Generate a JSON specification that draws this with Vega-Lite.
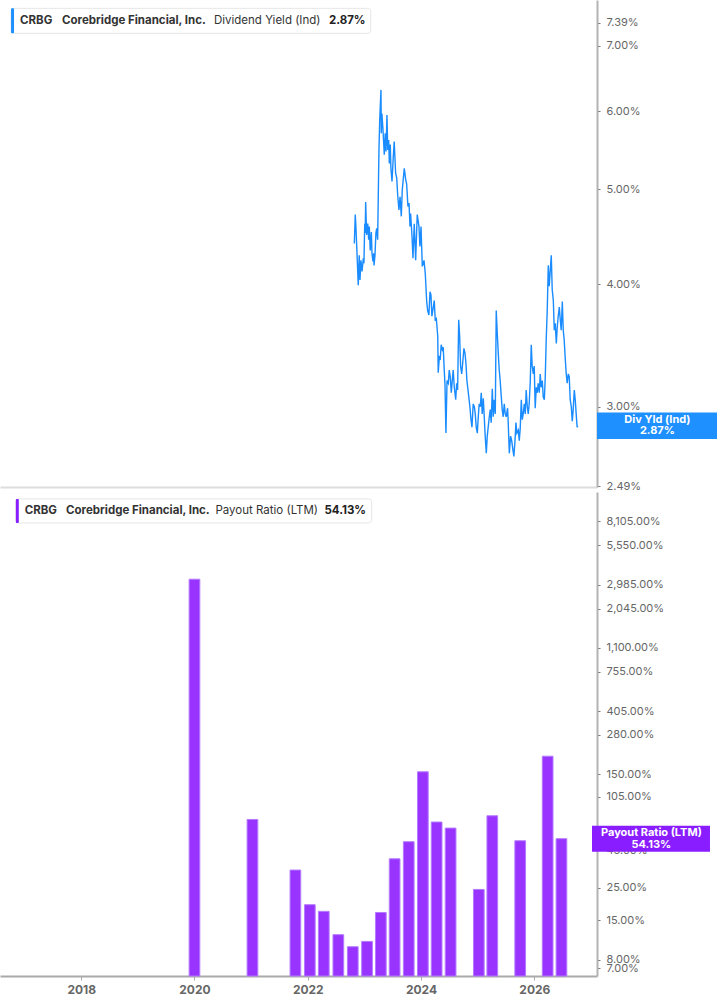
{
  "$schema": "https://vega.github.io/schema/vega-lite/v6.json",
  "padding": 0,
  "background": "white",
  "config": {
    "view": {"stroke": null},
    "font": "Inter",
    "axis": {"labelFont": "Inter", "titleFont": "Inter"}
  },
  "datasets": {
    "yield": [
      {"date": "2022-10-22", "value": 4.40}, {"date": "2022-10-28", "value": 4.71}, {"date": "2022-11-01", "value": 4.58},
      {"date": "2022-11-08", "value": 4.30}, {"date": "2022-11-16", "value": 3.99}, {"date": "2022-11-22", "value": 4.28},
      {"date": "2022-11-27", "value": 4.04}, {"date": "2022-12-03", "value": 4.23}, {"date": "2022-12-10", "value": 4.12},
      {"date": "2022-12-18", "value": 4.25}, {"date": "2022-12-22", "value": 4.20}, {"date": "2022-12-27", "value": 4.61},
      {"date": "2022-12-30", "value": 4.51}, {"date": "2023-01-02", "value": 4.85}, {"date": "2023-01-08", "value": 4.49},
      {"date": "2023-01-15", "value": 4.61}, {"date": "2023-01-21", "value": 4.44}, {"date": "2023-01-25", "value": 4.58},
      {"date": "2023-01-31", "value": 4.33}, {"date": "2023-02-07", "value": 4.52}, {"date": "2023-02-11", "value": 4.30},
      {"date": "2023-02-17", "value": 4.22}, {"date": "2023-02-22", "value": 4.30}, {"date": "2023-02-24", "value": 4.18},
      {"date": "2023-03-02", "value": 4.28}, {"date": "2023-03-08", "value": 4.51}, {"date": "2023-03-13", "value": 4.56},
      {"date": "2023-03-19", "value": 4.44}, {"date": "2023-03-27", "value": 5.46}, {"date": "2023-04-01", "value": 5.88},
      {"date": "2023-04-09", "value": 6.31}, {"date": "2023-04-11", "value": 5.70}, {"date": "2023-04-15", "value": 5.97},
      {"date": "2023-04-22", "value": 5.74}, {"date": "2023-04-30", "value": 5.42}, {"date": "2023-05-06", "value": 5.70},
      {"date": "2023-05-11", "value": 5.46}, {"date": "2023-05-17", "value": 5.95}, {"date": "2023-05-22", "value": 5.48},
      {"date": "2023-05-28", "value": 5.61}, {"date": "2023-06-01", "value": 5.31}, {"date": "2023-06-07", "value": 5.55},
      {"date": "2023-06-11", "value": 5.25}, {"date": "2023-06-18", "value": 5.09}, {"date": "2023-06-26", "value": 5.39},
      {"date": "2023-07-02", "value": 5.59}, {"date": "2023-07-11", "value": 5.19}, {"date": "2023-07-18", "value": 5.13},
      {"date": "2023-07-24", "value": 4.93}, {"date": "2023-08-01", "value": 4.76}, {"date": "2023-08-08", "value": 4.91},
      {"date": "2023-08-16", "value": 4.69}, {"date": "2023-08-22", "value": 4.99}, {"date": "2023-08-31", "value": 5.17},
      {"date": "2023-09-04", "value": 5.25}, {"date": "2023-09-13", "value": 5.11}, {"date": "2023-09-19", "value": 5.06},
      {"date": "2023-09-27", "value": 4.80}, {"date": "2023-10-04", "value": 4.84}, {"date": "2023-10-10", "value": 4.58},
      {"date": "2023-10-14", "value": 4.72}, {"date": "2023-10-23", "value": 4.47}, {"date": "2023-10-29", "value": 4.25},
      {"date": "2023-11-06", "value": 4.61}, {"date": "2023-11-15", "value": 4.23}, {"date": "2023-11-25", "value": 4.71},
      {"date": "2023-12-06", "value": 4.58}, {"date": "2023-12-12", "value": 4.37}, {"date": "2023-12-19", "value": 4.58},
      {"date": "2023-12-27", "value": 4.17}, {"date": "2024-01-07", "value": 4.23}, {"date": "2024-01-15", "value": 4.10},
      {"date": "2024-01-24", "value": 3.84}, {"date": "2024-01-30", "value": 3.76}, {"date": "2024-02-07", "value": 3.72},
      {"date": "2024-02-14", "value": 3.93}, {"date": "2024-02-20", "value": 3.90}, {"date": "2024-02-26", "value": 3.71},
      {"date": "2024-03-06", "value": 3.79}, {"date": "2024-03-12", "value": 3.85}, {"date": "2024-03-18", "value": 3.68},
      {"date": "2024-03-25", "value": 3.69}, {"date": "2024-04-03", "value": 3.54}, {"date": "2024-04-06", "value": 3.25},
      {"date": "2024-04-13", "value": 3.37}, {"date": "2024-04-19", "value": 3.36}, {"date": "2024-04-25", "value": 3.47},
      {"date": "2024-05-02", "value": 3.43}, {"date": "2024-05-08", "value": 3.45}, {"date": "2024-05-13", "value": 3.30},
      {"date": "2024-05-19", "value": 3.16}, {"date": "2024-05-25", "value": 2.82}, {"date": "2024-06-01", "value": 3.19},
      {"date": "2024-06-09", "value": 3.17}, {"date": "2024-06-15", "value": 3.27}, {"date": "2024-06-21", "value": 3.22},
      {"date": "2024-06-28", "value": 3.10}, {"date": "2024-07-04", "value": 3.19}, {"date": "2024-07-10", "value": 3.27},
      {"date": "2024-07-17", "value": 3.14}, {"date": "2024-07-26", "value": 3.05}, {"date": "2024-08-01", "value": 3.17},
      {"date": "2024-08-07", "value": 3.12}, {"date": "2024-08-14", "value": 3.68}, {"date": "2024-08-20", "value": 3.54},
      {"date": "2024-08-26", "value": 3.30}, {"date": "2024-09-02", "value": 3.24}, {"date": "2024-09-08", "value": 3.32},
      {"date": "2024-09-16", "value": 3.44}, {"date": "2024-09-23", "value": 3.40}, {"date": "2024-09-29", "value": 3.32},
      {"date": "2024-10-05", "value": 3.19}, {"date": "2024-10-12", "value": 3.12}, {"date": "2024-10-18", "value": 3.06},
      {"date": "2024-10-24", "value": 3.00}, {"date": "2024-10-31", "value": 2.91}, {"date": "2024-11-06", "value": 2.86},
      {"date": "2024-11-14", "value": 3.02}, {"date": "2024-11-21", "value": 3.00}, {"date": "2024-11-27", "value": 2.95},
      {"date": "2024-12-03", "value": 2.86}, {"date": "2024-12-10", "value": 2.82}, {"date": "2024-12-16", "value": 2.93},
      {"date": "2024-12-22", "value": 3.02}, {"date": "2024-12-29", "value": 3.00}, {"date": "2025-01-04", "value": 3.10},
      {"date": "2025-01-10", "value": 2.95}, {"date": "2025-01-17", "value": 3.06}, {"date": "2025-01-23", "value": 2.93},
      {"date": "2025-01-29", "value": 2.80}, {"date": "2025-02-05", "value": 2.69}, {"date": "2025-02-11", "value": 2.80},
      {"date": "2025-02-17", "value": 2.86}, {"date": "2025-02-24", "value": 2.93}, {"date": "2025-03-02", "value": 2.98},
      {"date": "2025-03-08", "value": 2.89}, {"date": "2025-03-15", "value": 3.13}, {"date": "2025-03-21", "value": 2.93},
      {"date": "2025-03-27", "value": 3.05}, {"date": "2025-04-03", "value": 2.95}, {"date": "2025-04-09", "value": 3.76},
      {"date": "2025-04-15", "value": 3.58}, {"date": "2025-04-22", "value": 3.40}, {"date": "2025-04-28", "value": 3.27},
      {"date": "2025-05-04", "value": 3.19}, {"date": "2025-05-11", "value": 3.07}, {"date": "2025-05-17", "value": 2.98},
      {"date": "2025-05-23", "value": 2.93}, {"date": "2025-05-30", "value": 3.02}, {"date": "2025-06-05", "value": 2.95},
      {"date": "2025-06-11", "value": 2.93}, {"date": "2025-06-20", "value": 2.99}, {"date": "2025-06-24", "value": 2.89},
      {"date": "2025-07-01", "value": 2.69}, {"date": "2025-07-09", "value": 2.80}, {"date": "2025-07-16", "value": 2.77},
      {"date": "2025-07-24", "value": 2.71}, {"date": "2025-07-30", "value": 2.67}, {"date": "2025-08-06", "value": 2.77},
      {"date": "2025-08-12", "value": 2.89}, {"date": "2025-08-18", "value": 2.82}, {"date": "2025-08-27", "value": 2.84},
      {"date": "2025-09-02", "value": 2.77}, {"date": "2025-09-08", "value": 2.85}, {"date": "2025-09-15", "value": 3.05},
      {"date": "2025-09-21", "value": 2.91}, {"date": "2025-09-27", "value": 2.95}, {"date": "2025-10-04", "value": 3.02},
      {"date": "2025-10-10", "value": 2.95}, {"date": "2025-10-16", "value": 3.12}, {"date": "2025-10-23", "value": 3.00},
      {"date": "2025-10-29", "value": 2.95}, {"date": "2025-11-04", "value": 3.02}, {"date": "2025-11-11", "value": 3.19},
      {"date": "2025-11-17", "value": 3.47}, {"date": "2025-11-23", "value": 3.30}, {"date": "2025-11-30", "value": 3.24},
      {"date": "2025-12-06", "value": 3.30}, {"date": "2025-12-12", "value": 2.99}, {"date": "2025-12-19", "value": 3.14},
      {"date": "2025-12-25", "value": 3.10}, {"date": "2025-12-31", "value": 3.17}, {"date": "2026-01-07", "value": 3.10},
      {"date": "2026-01-13", "value": 3.24}, {"date": "2026-01-19", "value": 3.14}, {"date": "2026-01-26", "value": 3.19},
      {"date": "2026-02-01", "value": 3.07}, {"date": "2026-02-08", "value": 3.05}, {"date": "2026-02-14", "value": 3.22},
      {"date": "2026-02-20", "value": 3.51}, {"date": "2026-02-27", "value": 3.79}, {"date": "2026-03-05", "value": 4.18},
      {"date": "2026-03-11", "value": 3.98}, {"date": "2026-03-18", "value": 4.14}, {"date": "2026-03-24", "value": 4.28},
      {"date": "2026-03-30", "value": 3.95}, {"date": "2026-04-06", "value": 3.85}, {"date": "2026-04-12", "value": 3.59},
      {"date": "2026-04-18", "value": 3.65}, {"date": "2026-04-25", "value": 3.48}, {"date": "2026-05-01", "value": 3.62},
      {"date": "2026-05-07", "value": 3.71}, {"date": "2026-05-14", "value": 3.79}, {"date": "2026-05-20", "value": 3.68},
      {"date": "2026-05-26", "value": 3.59}, {"date": "2026-06-02", "value": 3.84}, {"date": "2026-06-08", "value": 3.59},
      {"date": "2026-06-14", "value": 3.51}, {"date": "2026-06-21", "value": 3.35}, {"date": "2026-06-27", "value": 3.24},
      {"date": "2026-07-03", "value": 3.17}, {"date": "2026-07-10", "value": 3.24}, {"date": "2026-07-16", "value": 3.22},
      {"date": "2026-07-22", "value": 3.05}, {"date": "2026-07-29", "value": 3.00}, {"date": "2026-08-04", "value": 2.90},
      {"date": "2026-08-10", "value": 2.98}, {"date": "2026-08-17", "value": 3.12}, {"date": "2026-08-23", "value": 3.05},
      {"date": "2026-08-29", "value": 2.95}, {"date": "2026-09-04", "value": 2.86}, {"date": "2026-09-08", "value": 2.87}
    ],
    "payout": [
      {"date": "2020-01-01", "value": 3250}, {"date": "2021-01-09", "value": 73.3}, {"date": "2021-10-13", "value": 33.0},
      {"date": "2022-01-14", "value": 19.1}, {"date": "2022-04-14", "value": 17.2}, {"date": "2022-07-17", "value": 11.9},
      {"date": "2022-10-18", "value": 9.84}, {"date": "2023-01-18", "value": 10.7}, {"date": "2023-04-17", "value": 16.9},
      {"date": "2023-07-15", "value": 39.4}, {"date": "2023-10-14", "value": 51.6}, {"date": "2024-01-13", "value": 155.5},
      {"date": "2024-04-11", "value": 70.4}, {"date": "2024-07-10", "value": 64.0}, {"date": "2025-01-08", "value": 24.3},
      {"date": "2025-04-05", "value": 77.7}, {"date": "2025-10-02", "value": 52.4}, {"date": "2026-03-28", "value": 199},
      {"date": "2026-06-25", "value": 54.13}
    ],
    "one": [{}]
  },
  "vconcat": [
    {
      "width": 597,
      "height": 487,
      "layer": [
        {
          "data": {"name": "yield"},
          "mark": {"type": "line", "color": "#1a8cff", "strokeWidth": 1.4},
          "encoding": {
            "x": {
              "field": "date", "type": "temporal",
              "scale": {"domain": [{"year": 2016, "month": 8, "date": 27}, {"year": 2027, "month": 1, "date": 8}]},
              "axis": {"title": null, "labels": false, "ticks": false, "grid": false, "domainColor": "#dddddd", "domainWidth": 2}
            },
            "y": {
              "field": "value", "type": "quantitative",
              "scale": {"type": "log", "domain": [2.485, 7.792], "nice": false},
              "axis": {
                "orient": "right", "title": null, "grid": false,
                "values": [2.49, 3, 4, 5, 6, 7, 7.39],
                "labelExpr": "format(datum.value, '.2f') + '%'",
                "domainColor": "#b3b3b3", "domainWidth": 2,
                "tickColor": "#777777", "tickSize": 3,
                "labelColor": "#666666", "labelFontSize": 11, "labelPadding": 6,
                "labelOverlap": false, "labelBound": false
              }
            }
          }
        },
        {
          "data": {"name": "one"},
          "mark": {"type": "rect", "fill": "white", "stroke": "#e6e6e6", "strokeWidth": 1, "cornerRadius": 3},
          "encoding": {
            "x": {"datum": {"year": 2016, "month": 11, "date": 5}, "type": "temporal"},
            "x2": {"datum": {"year": 2023, "month": 2, "date": 3}},
            "y": {"datum": 7.641, "type": "quantitative"},
            "y2": {"datum": 7.206}
          }
        },
        {
          "data": {"name": "one"},
          "mark": {"type": "rect", "fill": "#1e90ff", "cornerRadius": 1},
          "encoding": {
            "x": {"datum": {"year": 2016, "month": 11, "date": 5}, "type": "temporal"},
            "x2": {"datum": {"year": 2016, "month": 11, "date": 24}},
            "y": {"datum": 7.641, "type": "quantitative"},
            "y2": {"datum": 7.206}
          }
        },
        {
          "data": {"name": "one"},
          "mark": {"type": "text", "align": "left", "baseline": "middle", "fontSize": 11.5, "fontWeight": "bold", "color": "#333333"},
          "encoding": {
            "x": {"datum": {"year": 2017, "month": 1, "date": 1}, "type": "temporal"},
            "y": {"datum": 7.426, "type": "quantitative"},
            "text": {"value": "CRBG"}
          }
        },
        {
          "data": {"name": "one"},
          "mark": {"type": "text", "align": "left", "baseline": "middle", "fontSize": 11.5, "fontWeight": "bold", "color": "#333333"},
          "encoding": {
            "x": {"datum": {"year": 2017, "month": 9, "date": 24}, "type": "temporal"},
            "y": {"datum": 7.426, "type": "quantitative"},
            "text": {"value": "Corebridge Financial, Inc."}
          }
        },
        {
          "data": {"name": "one"},
          "mark": {"type": "text", "align": "left", "baseline": "middle", "fontSize": 11.5, "color": "#333333"},
          "encoding": {
            "x": {"datum": {"year": 2020, "month": 5, "date": 15}, "type": "temporal"},
            "y": {"datum": 7.426, "type": "quantitative"},
            "text": {"value": "Dividend Yield (Ind)"}
          }
        },
        {
          "data": {"name": "one"},
          "mark": {"type": "text", "align": "left", "baseline": "middle", "fontSize": 11.5, "fontWeight": "bold", "color": "#222222"},
          "encoding": {
            "x": {"datum": {"year": 2022, "month": 5, "date": 14}, "type": "temporal"},
            "y": {"datum": 7.426, "type": "quantitative"},
            "text": {"value": "2.87%"}
          }
        },
        {
          "data": {"name": "one"},
          "mark": {"type": "rect", "fill": "#1e90ff"},
          "encoding": {
            "x": {"datum": {"year": 2027, "month": 1, "date": 8}, "type": "temporal"},
            "x2": {"datum": {"year": 2029, "month": 2, "date": 7}},
            "y": {"datum": 2.96, "type": "quantitative"},
            "y2": {"datum": 2.782}
          }
        },
        {
          "data": {"name": "one"},
          "mark": {"type": "text", "align": "center", "baseline": "middle", "fontSize": 11, "fontWeight": "bold", "color": "white"},
          "encoding": {
            "x": {"datum": {"year": 2028, "month": 1, "date": 26}, "type": "temporal"},
            "y": {"datum": 2.908, "type": "quantitative"},
            "text": {"value": "Div Yld (Ind)"}
          }
        },
        {
          "data": {"name": "one"},
          "mark": {"type": "text", "align": "center", "baseline": "middle", "fontSize": 11, "fontWeight": "bold", "color": "white"},
          "encoding": {
            "x": {"datum": {"year": 2028, "month": 1, "date": 26}, "type": "temporal"},
            "y": {"datum": 2.834, "type": "quantitative"},
            "text": {"value": "2.87%"}
          }
        }
      ]
    },
    {
      "width": 597,
      "height": 484,
      "layer": [
        {
          "data": {"name": "payout"},
          "mark": {"type": "bar", "color": "#9933ff", "stroke": "#b37aff", "strokeWidth": 1, "width": 10.7},
          "encoding": {
            "x": {
              "field": "date", "type": "temporal",
              "scale": {"domain": [{"year": 2016, "month": 8, "date": 27}, {"year": 2027, "month": 1, "date": 8}]},
              "axis": {
                "title": null, "grid": false, "format": "%Y",
                "tickCount": {"interval": "year", "step": 2},
                "labelFontWeight": "bold", "labelFontSize": 12, "labelColor": "#666666",
                "labelPadding": 4, "labelFlush": false,
                "domainColor": "#aaaaaa", "domainWidth": 2, "tickColor": "#aaaaaa", "tickSize": 4
              }
            },
            "y": {
              "field": "value", "type": "quantitative",
              "scale": {"type": "log", "domain": [6.2, 12870], "nice": false},
              "axis": {
                "orient": "right", "title": null, "grid": false,
                "values": [7, 8, 15, 25, 45, 55, 105, 150, 280, 405, 755, 1100, 2045, 2985, 5550, 8105],
                "labelExpr": "format(datum.value, ',.2f') + '%'",
                "domainColor": "#b3b3b3", "domainWidth": 2,
                "tickColor": "#777777", "tickSize": 3,
                "labelColor": "#666666", "labelFontSize": 11, "labelPadding": 6,
                "labelOverlap": false, "labelBound": false
              }
            },
            "y2": {"datum": 6.2}
          }
        },
        {
          "data": {"name": "one"},
          "mark": {"type": "rect", "fill": "white", "stroke": "#e6e6e6", "strokeWidth": 1, "cornerRadius": 3},
          "encoding": {
            "x": {"datum": {"year": 2016, "month": 11, "date": 5}, "type": "temporal"},
            "x2": {"datum": {"year": 2023, "month": 2, "date": 17}},
            "y": {"datum": 11535, "type": "quantitative"},
            "y2": {"datum": 7890}
          }
        },
        {
          "data": {"name": "one"},
          "mark": {"type": "rect", "fill": "#8a1dff", "cornerRadius": 1},
          "encoding": {
            "x": {"datum": {"year": 2016, "month": 11, "date": 5}, "type": "temporal"},
            "x2": {"datum": {"year": 2016, "month": 11, "date": 24}},
            "y": {"datum": 11535, "type": "quantitative"},
            "y2": {"datum": 7890}
          }
        },
        {
          "data": {"name": "one"},
          "mark": {"type": "text", "align": "left", "baseline": "middle", "fontSize": 11.5, "fontWeight": "bold", "color": "#333333"},
          "encoding": {
            "x": {"datum": {"year": 2017, "month": 1, "date": 1}, "type": "temporal"},
            "y": {"datum": 9537, "type": "quantitative"},
            "text": {"value": "CRBG"}
          }
        },
        {
          "data": {"name": "one"},
          "mark": {"type": "text", "align": "left", "baseline": "middle", "fontSize": 11.5, "fontWeight": "bold", "color": "#333333"},
          "encoding": {
            "x": {"datum": {"year": 2017, "month": 9, "date": 24}, "type": "temporal"},
            "y": {"datum": 9537, "type": "quantitative"},
            "text": {"value": "Corebridge Financial, Inc."}
          }
        },
        {
          "data": {"name": "one"},
          "mark": {"type": "text", "align": "left", "baseline": "middle", "fontSize": 11.5, "color": "#333333"},
          "encoding": {
            "x": {"datum": {"year": 2020, "month": 5, "date": 15}, "type": "temporal"},
            "y": {"datum": 9537, "type": "quantitative"},
            "text": {"value": "Payout Ratio (LTM)"}
          }
        },
        {
          "data": {"name": "one"},
          "mark": {"type": "text", "align": "left", "baseline": "middle", "fontSize": 11.5, "fontWeight": "bold", "color": "#222222"},
          "encoding": {
            "x": {"datum": {"year": 2022, "month": 4, "date": 18}, "type": "temporal"},
            "y": {"datum": 9537, "type": "quantitative"},
            "text": {"value": "54.13%"}
          }
        },
        {
          "data": {"name": "one"},
          "mark": {"type": "rect", "fill": "#8a1dff"},
          "encoding": {
            "x": {"datum": {"year": 2027, "month": 1, "date": 8}, "type": "temporal"},
            "x2": {"datum": {"year": 2029, "month": 2, "date": 7}},
            "y": {"datum": 66.4, "type": "quantitative"},
            "y2": {"datum": 44.1}
          }
        },
        {
          "data": {"name": "one"},
          "mark": {"type": "text", "align": "center", "baseline": "middle", "fontSize": 11, "fontWeight": "bold", "color": "white"},
          "encoding": {
            "x": {"datum": {"year": 2028, "month": 1, "date": 26}, "type": "temporal"},
            "y": {"datum": 59.44, "type": "quantitative"},
            "text": {"value": "Payout Ratio (LTM)"}
          }
        },
        {
          "data": {"name": "one"},
          "mark": {"type": "text", "align": "center", "baseline": "middle", "fontSize": 11, "fontWeight": "bold", "color": "white"},
          "encoding": {
            "x": {"datum": {"year": 2028, "month": 1, "date": 26}, "type": "temporal"},
            "y": {"datum": 49.18, "type": "quantitative"},
            "text": {"value": "54.13%"}
          }
        }
      ]
    }
  ],
  "spacing": 0
}
